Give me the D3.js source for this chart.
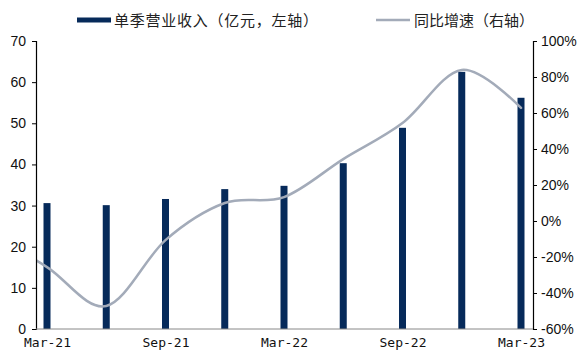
<!DOCTYPE html>
<html>
<head>
<meta charset="utf-8">
<script src="https://cdn.jsdelivr.net/npm/d3@7"></script>
<style>
  html, body { margin: 0; padding: 0; background: #ffffff; }
  svg { display: block; }
</style>
</head>
<body>
<div id="chart"></div>
<script>
// ---- data ----
const categories = ["Mar-21", "Jun-21", "Sep-21", "Dec-21", "Mar-22", "Jun-22", "Sep-22", "Dec-22", "Mar-23"];
const revenue = [30.6, 30.1, 31.6, 34.0, 34.8, 40.3, 48.9, 62.5, 56.2];          // 亿元, left axis
const growthCategories = ["Dec-20", "Mar-21", "Jun-21", "Sep-21", "Dec-21", "Mar-22", "Jun-22", "Sep-22", "Dec-22", "Mar-23"];
const growth = [-6, -25.6, -47.2, -10.6, 10.0, 13.3, 34.4, 54.4, 83.9, 62.8];     // %, right axis
const xTickLabels = ["Mar-21", "Sep-21", "Mar-22", "Sep-22", "Mar-23"];
const leftTicks = [0, 10, 20, 30, 40, 50, 60, 70];
const rightTicks = [-60, -40, -20, 0, 20, 40, 60, 80, 100];
const legendLabels = ["单季营业收入（亿元，左轴）", "同比增速（右轴）"];

// ---- layout ----
const W = 577, H = 356;
const plotLeft = 36, plotRight = 533, plotTop = 41, plotBottom = 329;
const barColor = "#062a5a";
const lineColor = "#a3abb9";

const svg = d3.select("#chart").append("svg")
  .attr("width", W).attr("height", H);

const x = d3.scalePoint().domain(growthCategories).range([47 - 59.25, 521]);
const yL = d3.scaleLinear().domain([0, 70]).range([plotBottom, plotTop]);
const yR = d3.scaleLinear().domain([-60, 100]).range([plotBottom, plotTop]);

svg.append("defs").append("clipPath").attr("id", "plotClip")
  .append("rect").attr("x", plotLeft).attr("y", 0)
  .attr("width", plotRight - plotLeft).attr("height", H);

// bars
const barW = 7;
svg.append("g").selectAll("rect")
  .data(categories.map((c, i) => ({ c, v: revenue[i] })))
  .join("rect")
  .attr("x", d => x(d.c) - barW / 2)
  .attr("y", d => yL(d.v))
  .attr("width", barW)
  .attr("height", d => yL(0) - yL(d.v))
  .attr("fill", barColor);

// line
const line = d3.line()
  .x(d => x(d.c))
  .y(d => yR(d.v))
  .curve(d3.curveCardinal.tension(0));
svg.append("path")
  .datum(growthCategories.map((c, i) => ({ c, v: growth[i] })))
  .attr("clip-path", "url(#plotClip)")
  .attr("d", line)
  .attr("fill", "none")
  .attr("stroke", lineColor)
  .attr("stroke-width", 2.5)
  .attr("stroke-linecap", "round");

// axes
const numFont = "'Liberation Sans', Arial, sans-serif";
const leftAxis = svg.append("g")
  .attr("transform", `translate(${plotLeft},0)`)
  .call(d3.axisLeft(yL).tickValues(leftTicks).tickSize(4).tickPadding(6).tickFormat(d3.format("d")));
const rightAxis = svg.append("g")
  .attr("transform", `translate(${plotRight},0)`)
  .call(d3.axisRight(yR).tickValues(rightTicks).tickSize(4).tickPadding(4).tickFormat(d => d + "%"));
[leftAxis, rightAxis].forEach(a => {
  a.select(".domain").attr("stroke", "#000").attr("stroke-width", 1.2);
  a.selectAll(".tick line").attr("stroke", "#000");
  a.selectAll(".tick text").attr("font-family", numFont).attr("font-size", 14).attr("fill", "#111");
});

// bottom axis line
const bottomAxis = svg.append("g")
  .attr("transform", `translate(0,${plotBottom})`)
  .call(d3.axisBottom(x).tickValues(xTickLabels).tickSize(0).tickPadding(9));
bottomAxis.select(".domain").attr("stroke", "#888").attr("stroke-width", 1)
  .attr("d", `M${plotLeft},0H${plotRight}`);
bottomAxis.selectAll(".tick text")
  .attr("font-family", "'DejaVu Sans Mono', 'Liberation Mono', monospace")
  .attr("font-size", 13).attr("fill", "#111");

// legend
const legFont = "'Noto Sans CJK SC', sans-serif";
svg.append("rect").attr("x", 77).attr("y", 17.5).attr("width", 34).attr("height", 5).attr("fill", barColor);
svg.append("text").attr("x", 114).attr("y", 25.5).text(legendLabels[0])
  .attr("font-family", legFont).attr("font-size", 15).attr("fill", "#222")
  .attr("textLength", 204).attr("lengthAdjust", "spacing");
svg.append("line").attr("x1", 376).attr("x2", 410).attr("y1", 20).attr("y2", 20)
  .attr("stroke", lineColor).attr("stroke-width", 2.5);
svg.append("text").attr("x", 414).attr("y", 25.5).text(legendLabels[1])
  .attr("font-family", legFont).attr("font-size", 15).attr("fill", "#222")
  .attr("textLength", 120).attr("lengthAdjust", "spacing");
</script>
</body>
</html>
